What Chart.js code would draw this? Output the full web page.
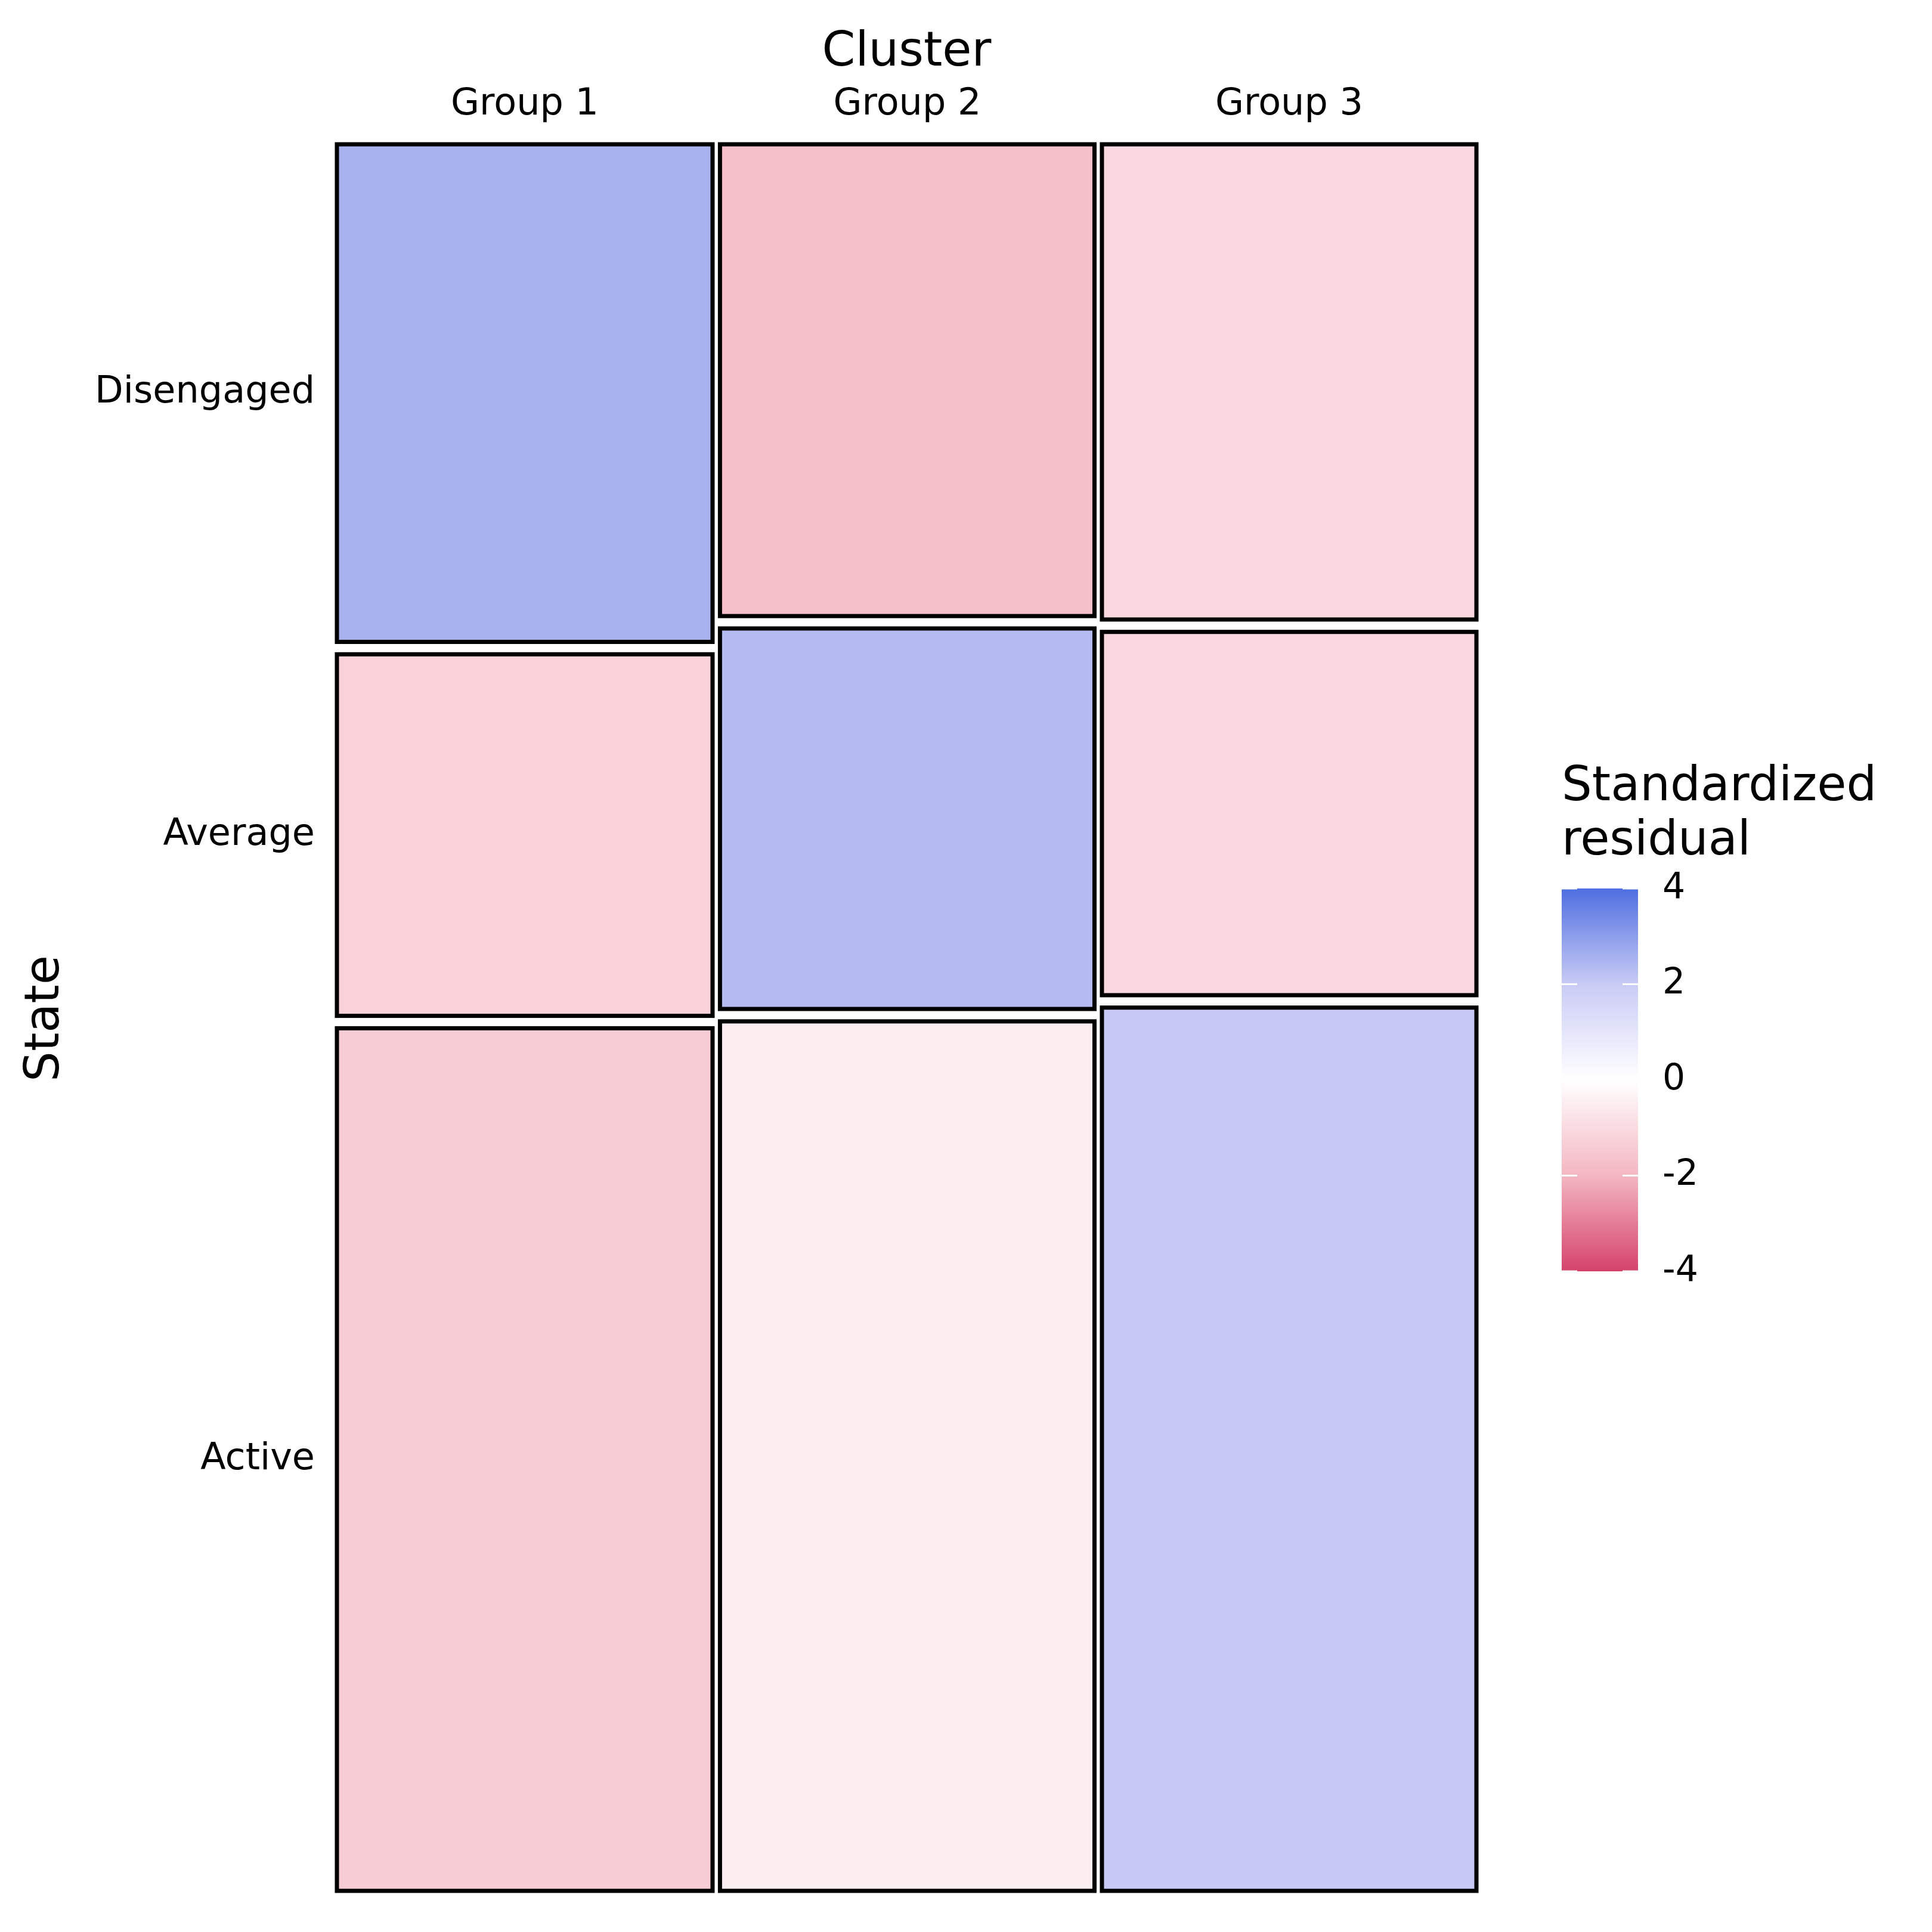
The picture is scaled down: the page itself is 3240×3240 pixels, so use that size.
<!DOCTYPE html>
<html>
<head>
<meta charset="utf-8">
<script src="https://cdn.jsdelivr.net/npm/chart.js@4.4.0/dist/chart.umd.min.js"></script>
<style>
  html, body { margin: 0; padding: 0; background: #fff; }
  canvas { display: block; }
</style>
</head>
<body>
<canvas id="mosaic" width="3240" height="3240"></canvas>
<script>
// ------------------------------------------------------------
//  Mosaic plot: State x Cluster, coloured by standardized residual
// ------------------------------------------------------------

const CLUSTERS   = ['Group 1', 'Group 2', 'Group 3'];
const STATES     = ['Disengaged', 'Average', 'Active'];
const COL_SHARE  = [0.334, 0.333, 0.333];
// share of each state inside each cluster (top -> bottom)
const G1_SHARE   = [0.289, 0.210, 0.501];
const G2_SHARE   = [0.274, 0.221, 0.505];
const G3_SHARE   = [0.276, 0.211, 0.513];
const G1_RESID   = [2.55, -1.25, -1.40];
const G2_RESID   = [-1.73, 2.35, -0.48];
const G3_RESID   = [-1.05, -1.05, 2.05];
const LEGEND_TICKS = [4, 2, 0, -2, -4];

const SHARES = [G1_SHARE, G2_SHARE, G3_SHARE];
const RESIDS = [G1_RESID, G2_RESID, G3_RESID];

const GAP_X = 0.0066;
const GAP_Y = 0.0072;

const STOPS = [
  [-4, [213, 67, 106]],
  [-2, [243, 182, 194]],
  [ 0, [255, 255, 255]],
  [ 2, [201, 203, 245]],
  [ 4, [79, 111, 224]]
];

function residColor(v) {
  v = Math.max(-4, Math.min(4, v));
  for (let i = 0; i < STOPS.length - 1; i++) {
    const [a, ca] = STOPS[i], [b, cb] = STOPS[i + 1];
    if (v >= a && v <= b) {
      const t = (v - a) / (b - a);
      const c = ca.map((x, k) => Math.round(x + (cb[k] - x) * t));
      return 'rgb(' + c.join(',') + ')';
    }
  }
  return '#fff';
}

const FONT = '"DejaVu Sans", sans-serif';

const mosaicPlugin = {
  id: 'mosaic',
  afterDraw(chart) {
    const ctx = chart.ctx;
    const xs = chart.scales.x, ys = chart.scales.y;
    ctx.save();

    // cells
    let x0 = 0;
    const colCenters = [];
    const firstRowCenters = [];
    CLUSTERS.forEach((c, ci) => {
      const x1 = x0 + COL_SHARE[ci];
      let y0 = 0;
      SHARES[ci].forEach((s, ri) => {
        const y1 = y0 + s;
        const px0 = xs.getPixelForValue(x0), px1 = xs.getPixelForValue(x1);
        const py0 = ys.getPixelForValue(y0), py1 = ys.getPixelForValue(y1);
        ctx.fillStyle = residColor(RESIDS[ci][ri]);
        ctx.fillRect(px0, py0, px1 - px0, py1 - py0);
        ctx.lineWidth = 7;
        ctx.strokeStyle = '#000';
        ctx.strokeRect(px0, py0, px1 - px0, py1 - py0);
        if (ci === 0) firstRowCenters.push((py0 + py1) / 2);
        y0 = y1 + GAP_Y;
      });
      colCenters.push((xs.getPixelForValue(x0) + xs.getPixelForValue(x1)) / 2);
      x0 = x1 + GAP_X;
    });

    // column labels + title
    ctx.fillStyle = '#000';
    ctx.textAlign = 'center';
    ctx.textBaseline = 'middle';
    ctx.font = '62px ' + FONT;
    CLUSTERS.forEach((c, i) => ctx.fillText(c, colCenters[i], 176));
    ctx.font = '80px ' + FONT;
    ctx.fillText('Cluster', (xs.left + xs.right) / 2, 89);

    // row labels
    ctx.textAlign = 'right';
    ctx.font = '62px ' + FONT;
    STATES.forEach((s, i) => ctx.fillText(s, 528, firstRowCenters[i]));

    // y title
    ctx.save();
    ctx.translate(77, 1708);
    ctx.rotate(-Math.PI / 2);
    ctx.textAlign = 'center';
    ctx.font = '80px ' + FONT;
    ctx.fillText('State', 0, 0);
    ctx.restore();

    // legend
    const lx = 2619, lw = 128, ltop = 1490, lbot = 2132;
    ctx.textAlign = 'left';
    ctx.font = '80px ' + FONT;
    ctx.fillText('Standardized', lx, 1321);
    ctx.fillText('residual', lx, 1412);
    const grad = ctx.createLinearGradient(0, ltop, 0, lbot);
    STOPS.slice().reverse().forEach(([v, c]) => {
      grad.addColorStop((4 - v) / 8, 'rgb(' + c.join(',') + ')');
    });
    ctx.fillStyle = grad;
    ctx.fillRect(lx, ltop, lw, lbot - ltop);
    ctx.font = '60px ' + FONT;
    LEGEND_TICKS.forEach(v => {
      const y = ltop + (4 - v) / 8 * (lbot - ltop);
      ctx.strokeStyle = '#fff';
      ctx.lineWidth = 3;
      ctx.beginPath();
      ctx.moveTo(lx, y); ctx.lineTo(lx + 26, y);
      ctx.moveTo(lx + lw - 26, y); ctx.lineTo(lx + lw, y);
      ctx.stroke();
      ctx.fillStyle = '#000';
      ctx.fillText(String(v), 2788, y);
    });

    ctx.restore();
  }
};

new Chart(document.getElementById('mosaic').getContext('2d'), {
  type: 'scatter',
  data: { datasets: [] },
  options: {
    responsive: false,
    animation: false,
    devicePixelRatio: 1,
    layout: { padding: { left: 565, right: 764, top: 242, bottom: 69 } },
    plugins: { legend: { display: false }, tooltip: { enabled: false } },
    scales: {
      x: { type: 'linear', display: false, min: 0, max: 1 + 2 * GAP_X },
      y: { type: 'linear', display: false, reverse: true, min: 0, max: 1 + 2 * GAP_Y }
    }
  },
  plugins: [mosaicPlugin]
});
</script>
</body>
</html>
